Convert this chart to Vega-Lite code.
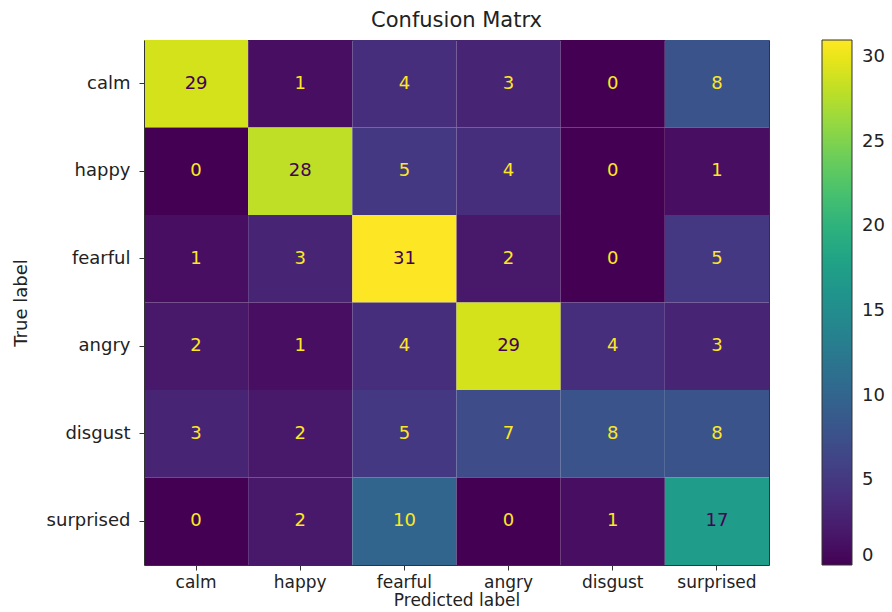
{
  "$schema": "https://vega.github.io/schema/vega-lite/v6.json",
  "autosize": {"type": "none"},
  "padding": {"left": 144, "top": 40, "right": 123, "bottom": 47},
  "width": 625,
  "height": 525,
  "title": {
    "text": "Confusion Matrx",
    "font": "DejaVu Sans",
    "fontSize": 21,
    "fontWeight": "normal",
    "color": "#222222",
    "offset": 9
  },
  "config": {
    "view": {"stroke": null},
    "axis": {
      "domain": true,
      "domainColor": "#333333",
      "domainWidth": 1,
      "grid": false,
      "ticks": true,
      "tickColor": "#333333",
      "tickSize": 5,
      "labelFont": "DejaVu Sans",
      "labelFontSize": 18,
      "labelColor": "#222222",
      "labelPadding": 9,
      "titleFont": "DejaVu Sans",
      "titleFontSize": 18,
      "titleFontWeight": "normal",
      "titleColor": "#222222"
    },
    "legend": {
      "labelFont": "DejaVu Sans",
      "labelFontSize": 18,
      "labelColor": "#222222"
    }
  },
  "data": {
    "values": [
      {"true": "calm", "pred": "calm", "count": 29},
      {"true": "calm", "pred": "happy", "count": 1},
      {"true": "calm", "pred": "fearful", "count": 4},
      {"true": "calm", "pred": "angry", "count": 3},
      {"true": "calm", "pred": "disgust", "count": 0},
      {"true": "calm", "pred": "surprised", "count": 8},
      {"true": "happy", "pred": "calm", "count": 0},
      {"true": "happy", "pred": "happy", "count": 28},
      {"true": "happy", "pred": "fearful", "count": 5},
      {"true": "happy", "pred": "angry", "count": 4},
      {"true": "happy", "pred": "disgust", "count": 0},
      {"true": "happy", "pred": "surprised", "count": 1},
      {"true": "fearful", "pred": "calm", "count": 1},
      {"true": "fearful", "pred": "happy", "count": 3},
      {"true": "fearful", "pred": "fearful", "count": 31},
      {"true": "fearful", "pred": "angry", "count": 2},
      {"true": "fearful", "pred": "disgust", "count": 0},
      {"true": "fearful", "pred": "surprised", "count": 5},
      {"true": "angry", "pred": "calm", "count": 2},
      {"true": "angry", "pred": "happy", "count": 1},
      {"true": "angry", "pred": "fearful", "count": 4},
      {"true": "angry", "pred": "angry", "count": 29},
      {"true": "angry", "pred": "disgust", "count": 4},
      {"true": "angry", "pred": "surprised", "count": 3},
      {"true": "disgust", "pred": "calm", "count": 3},
      {"true": "disgust", "pred": "happy", "count": 2},
      {"true": "disgust", "pred": "fearful", "count": 5},
      {"true": "disgust", "pred": "angry", "count": 7},
      {"true": "disgust", "pred": "disgust", "count": 8},
      {"true": "disgust", "pred": "surprised", "count": 8},
      {"true": "surprised", "pred": "calm", "count": 0},
      {"true": "surprised", "pred": "happy", "count": 2},
      {"true": "surprised", "pred": "fearful", "count": 10},
      {"true": "surprised", "pred": "angry", "count": 0},
      {"true": "surprised", "pred": "disgust", "count": 1},
      {"true": "surprised", "pred": "surprised", "count": 17}
    ]
  },
  "resolve": {"axis": {"x": "independent", "y": "independent"}},
  "layer": [
    {
      "mark": {"type": "rect"},
      "encoding": {
        "x": {
          "field": "pred",
          "type": "nominal",
          "sort": ["calm", "happy", "fearful", "angry", "disgust", "surprised"],
          "scale": {"paddingInner": 0, "paddingOuter": 0},
          "axis": {"title": "Predicted label", "labelAngle": 0, "labelFontSize": 17, "labelPadding": 4, "titleFontSize": 17, "titlePadding": 2, "orient": "bottom"}
        },
        "y": {
          "field": "true",
          "type": "nominal",
          "sort": ["calm", "happy", "fearful", "angry", "disgust", "surprised"],
          "scale": {"paddingInner": 0, "paddingOuter": 0},
          "axis": {"title": "True label", "titlePadding": 16, "orient": "left"}
        },
        "color": {
          "field": "count",
          "type": "quantitative",
          "scale": {"scheme": "viridis", "domain": [0, 31]},
          "legend": {
            "type": "gradient",
            "title": null,
            "orient": "right",
            "direction": "vertical",
            "offset": 53,
            "gradientLength": 525,
            "gradientThickness": 30,
            "gradientStrokeColor": "#333333",
            "gradientStrokeWidth": 1,
            "values": [0, 5, 10, 15, 20, 25, 30],
            "labelOffset": 10
          }
        }
      }
    },
    {
      "mark": {"type": "text", "font": "DejaVu Sans", "fontSize": 18},
      "encoding": {
        "x": {
          "field": "pred",
          "type": "nominal",
          "sort": ["calm", "happy", "fearful", "angry", "disgust", "surprised"],
          "axis": {"orient": "top", "title": null, "labels": false, "ticks": false}
        },
        "y": {
          "field": "true",
          "type": "nominal",
          "sort": ["calm", "happy", "fearful", "angry", "disgust", "surprised"],
          "axis": {"orient": "right", "title": null, "labels": false, "ticks": false}
        },
        "text": {"field": "count", "type": "quantitative"},
        "color": {
          "condition": {"test": "datum.count > 15.5", "value": "#440154"},
          "value": "#fde725"
        }
      }
    }
  ]
}
